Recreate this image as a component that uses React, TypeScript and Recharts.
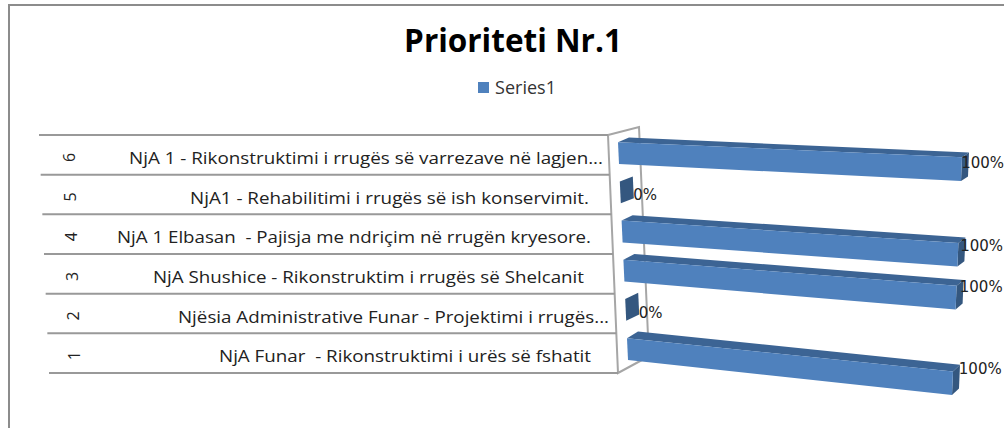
import { Bar, BarChart, LabelList, Legend, XAxis, YAxis } from 'recharts'

const categories = [
  'NjA 1 - Rikonstruktimi i rrugës së varrezave në lagjen...',
  'NjA1 - Rehabilitimi i rrugës së ish konservimit.',
  'NjA 1 Elbasan  - Pajisja me ndriçim në rrugën kryesore.',
  'NjA Shushice - Rikonstruktim i rrugës së Shelcanit',
  'Njësia Administrative Funar - Projektimi i rrugës...',
  'NjA Funar  - Rikonstruktimi i urës së fshatit',
]
const rowNumbers = ['6', '5', '4', '3', '2', '1']
const seriesValues = [100, 0, 100, 100, 0, 100]

const chartData = categories.map((name, i) => ({
  name,
  row: rowNumbers[i],
  Series1: seriesValues[i],
}))

// layout only: where each label sits in its row
const labelStart = [129, 190, 117, 153, 178, 219]
const labelWidth = [474, 399, 474, 431, 431, 372]

const PLOT_LEFT = 618
const PLOT_RIGHT = 962
const PLOT_TOP = 135
const PLOT_BOTTOM = 373

// flat plot coordinates -> the tilted 3D look of the original
function warp(px: number, py: number) {
  const u = (px - PLOT_LEFT) / (PLOT_RIGHT - PLOT_LEFT)
  const v = (py - PLOT_TOP) / (PLOT_BOTTOM - PLOT_TOP)
  const leftX = 617.6 + v * 10.8
  const rightX = 962.4 - v * 10.8
  const leftY = 133.3 + v * 235.3
  const rightY = 147.5 + v * 257
  return { x: leftX + (rightX - leftX) * u, y: leftY + (rightY - leftY) * u }
}

const pts = (list: { x: number; y: number }[]) =>
  list.map((p) => `${p.x.toFixed(1)},${p.y.toFixed(1)}`).join(' ')

function Bar3D({ x, y, width, height }: any) {
  const tl = warp(x, y)
  const tr = warp(x + width, y)
  const bl = warp(x, y + height)
  const br = warp(x + width, y + height)
  const v = (y - PLOT_TOP) / (PLOT_BOTTOM - PLOT_TOP)
  const depthY = 4.5 + v * 2.5
  const back = (p: { x: number; y: number }, dx: number) => ({ x: p.x + dx, y: p.y - depthY })
  const dxRight = width > 0 ? 7 : 13
  const dxLeft = width > 0 ? 11 : 13
  return (
    <g>
      <polygon
        points={pts([tl, back(tl, dxLeft), back(tr, dxRight), tr])}
        fill='#3c6494'
      />
      <polygon
        points={pts([tr, back(tr, dxRight), back(br, dxRight), br])}
        fill='#34577f'
      />
      {width > 0 ? (
        <polygon points={pts([tl, tr, br, bl])} fill='#4f81bd' />
      ) : null}
    </g>
  )
}

function ValueLabel({ x, y, width, height, value }: any) {
  const mid = y + height / 2
  const v = (mid - PLOT_TOP) / (PLOT_BOTTOM - PLOT_TOP)
  const end = warp(x + width, mid)
  const labelX = width > 0 ? end.x + v * 8 - 1 : end.x + 13
  const labelY = width > 0 ? end.y - 5 - v * 10 : end.y + 3
  return (
    <text
      x={labelX}
      y={labelY}
      dominantBaseline='central'
      fontFamily='DejaVu Sans'
      fontSize={15}
      fill='#222'
    >
      {value}%
    </text>
  )
}

function RowTick({ y, index }: any) {
  const bandH = (PLOT_BOTTOM - PLOT_TOP) / categories.length
  const top = y - bandH / 2
  const shift = ((top - PLOT_TOP) / (PLOT_BOTTOM - PLOT_TOP)) * 10
  const numX = 69 + index
  const textY = y + 2.5
  const last = index === categories.length - 1
  return (
    <g>
      <line x1={39 + shift} x2={608 + shift} y1={top} y2={top} stroke='#999' strokeWidth={2} />
      {last ? (
        <line x1={49} x2={618} y1={top + bandH} y2={top + bandH} stroke='#999' strokeWidth={2} />
      ) : null}
      <text
        x={numX}
        y={textY}
        transform={`rotate(-90 ${numX} ${textY})`}
        textAnchor='middle'
        dominantBaseline='central'
        fontFamily='Open Sans'
        fontSize={16}
        fill='#222'
      >
        {rowNumbers[index]}
      </text>
      <text
        x={labelStart[index]}
        y={textY}
        dominantBaseline='central'
        fontFamily='Open Sans'
        fontSize={16.5}
        fill='#222'
        textLength={labelWidth[index]}
        lengthAdjust='spacingAndGlyphs'
        xmlSpace='preserve'
      >
        {categories[index]}
      </text>
    </g>
  )
}

function LegendBox() {
  return (
    <div style={{ display: 'flex', alignItems: 'center', justifyContent: 'center', fontFamily: 'Open Sans', fontSize: 18, color: '#333' }}>
      <span style={{ width: 11, height: 11, background: '#4f81bd', marginRight: 6 }} />
      Series1
    </div>
  )
}

export default function App() {
  return (
    <div style={{ position: 'absolute', left: 0, top: 0, width: 1004, height: 428, overflow: 'hidden', background: '#fff' }}>
      <BarChart
        width={1004}
        height={428}
        data={chartData}
        layout='vertical'
        barSize={22}
        margin={{ top: PLOT_TOP, right: 1004 - PLOT_RIGHT, bottom: 428 - PLOT_BOTTOM, left: 0 }}
      >
        <line x1={9} x2={9} y1={4} y2={428} stroke='#8c8c8c' strokeWidth={2} />
        <line x1={8} x2={1004} y1={5} y2={5} stroke='#8c8c8c' strokeWidth={2} />
        <text x={513} y={39} textAnchor='middle' dominantBaseline='central' fontFamily='Open Sans' fontWeight={700} fontSize={31.5} fill='#000'>
          Prioriteti Nr.1
        </text>
        <polyline points='608,135 639,127 648,336' fill='none' stroke='#a6a6a6' strokeWidth={2} />
        <polyline points='608,135 618,373 642,360' fill='none' stroke='#a6a6a6' strokeWidth={2} />
        <XAxis type='number' domain={[0, 100]} hide />
        <YAxis
          type='category'
          dataKey='name'
          width={PLOT_LEFT}
          axisLine={false}
          tickLine={false}
          interval={0}
          tick={<RowTick />}
        />
        <Legend
          verticalAlign='middle'
          content={<LegendBox />}
          wrapperStyle={{ left: 0, top: 75, bottom: 'auto', width: 1034 }}
        />
        <Bar dataKey='Series1' shape={<Bar3D />} isAnimationActive={false}>
          <LabelList dataKey='Series1' content={<ValueLabel />} />
        </Bar>
      </BarChart>
    </div>
  )
}
